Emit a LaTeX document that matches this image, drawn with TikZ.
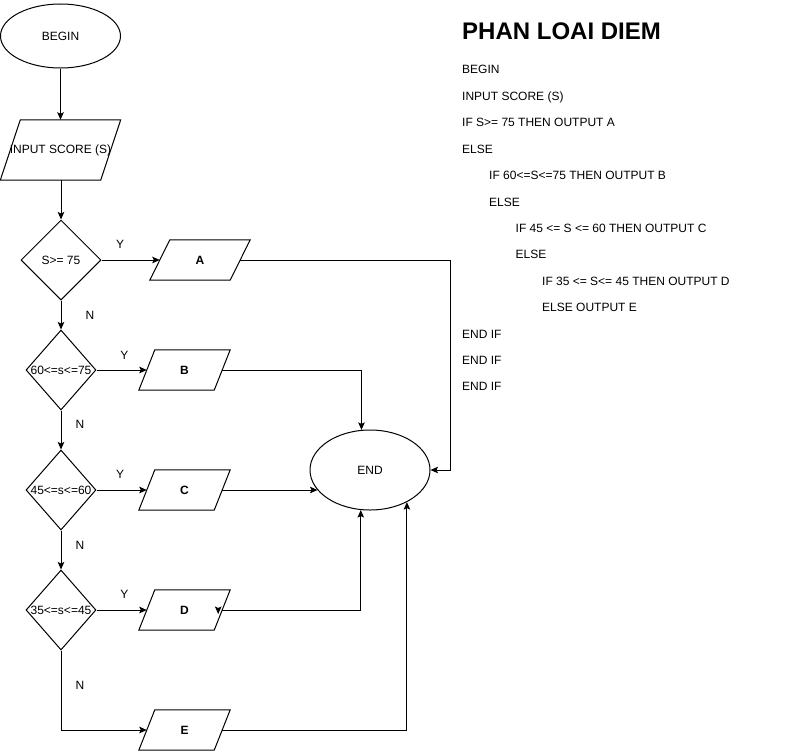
\documentclass[tikz,border=0pt]{standalone}
\usepackage{fontspec}
\setmainfont{Liberation Sans}
\usetikzlibrary{shapes.geometric,arrows.meta}
\newcommand\paral[2]{\draw[line] ([xshift=#2]#1.north west) -- ([xshift=#2]#1.north east) -- ([xshift=-#2]#1.south east) -- ([xshift=-#2]#1.south west) -- cycle;}
\begin{document}
\begin{tikzpicture}[x=1pt,y=-1pt,
 every node/.style={font=\fontsize{12}{14}\selectfont, inner sep=0pt},
 line/.style={line width=1pt},
 arr/.style={line width=1pt,-{Stealth[length=7.5pt,width=6.5pt,inset=1.5pt]}},
 term/.style={draw,line width=1pt,ellipse,minimum width=120pt},
 dec/.style={draw,line width=1pt,diamond,minimum height=80pt},
 iobox/.style={minimum height=40pt,font=\fontsize{12}{14}\selectfont\bfseries},
 code/.style={anchor=base west},
]
\useasboundingbox (0,0) rectangle (791,752);

% terminals
\node[term,minimum height=64pt] (begin) at (60.5,36) {BEGIN};
\node[term,minimum height=80pt] (end) at (370,470) {END};

% input
\node[minimum height=60pt,minimum width=100pt,label=center:{INPUT SCORE (S)}] (in) at (60.5,150) {};
\paral{in}{10pt}

% decisions
\node[dec,minimum width=80pt,label=center:{S>= 75}] (d1) at (61,260) {};
\node[dec,minimum width=70pt,label=center:{60<=s<=75}] (d2) at (61,370) {};
\node[dec,minimum width=70pt,label=center:{45<=s<=60}] (d3) at (61,490) {};
\node[dec,minimum width=70pt,label=center:{35<=s<=45}] (d4) at (61,610) {};

% outputs
\node[iobox,minimum width=80pt] (A) at (200,260) {A};
\paral{A}{10pt}
\node[iobox,minimum width=75pt] (B) at (184.5,370) {B};
\paral{B}{8pt}
\node[iobox,minimum width=75pt] (C) at (184.5,490) {C};
\paral{C}{8pt}
\node[iobox,minimum width=75pt] (D) at (184.5,610) {D};
\paral{D}{8pt}
\node[iobox,minimum width=75pt] (E) at (184.5,730) {E};
\paral{E}{8pt}

% main flow
\draw[arr] (begin.south) -- (in.north -| begin.south);
\draw[arr] (in.south -| d1.north) -- (d1.north);
\draw[arr] (d1.south) -- (d2.north);
\draw[arr] (d2.south) -- (d3.north);
\draw[arr] (d3.south) -- (d4.north);
\draw[arr] (d4.south) |- (E.west);

% yes branches
\draw[arr] (d1.east) -- (A.west);
\draw[arr] (d2.east) -- (B.west);
\draw[arr] (d3.east) -- (C.west);
\draw[arr] (d4.east) -- (D.west);

% to END
\draw[arr] (A.east) -| ([xshift=20pt]end.east) -- (end.east);
\draw[arr] (B.east) -| (end.102.8);
\draw[arr] (C.east) -- (C.east -| end.201);
\draw[arr] (D.east) -| (end.257.2);
\draw[arr] ([xshift=-4pt]D.east) -- ++(0,4);
\draw[arr] (E.east) -| (end.-41.6);

% labels
\node (y1) at (120,244) {Y};
\node (y2) at (124.5,355) {Y};
\node (y3) at (120,474) {Y};
\node (y4) at (124.5,594) {Y};
\node (n1) at (90,315) {N};
\node (n2) at (80,424) {N};
\node (n3) at (80,545) {N};
\node (n4) at (80,685) {N};

% pseudo code
\node[code,font=\fontsize{24}{28}\selectfont\bfseries] (title) at (462,39.5) {PHAN LOAI DIEM};
\node[code] (c1) at (462,74) {BEGIN};
\node[code] (c2) at (462,100.4) {INPUT SCORE (S)};
\node[code] (c3) at (462,126.8) {IF S>= 75 THEN OUTPUT A};
\node[code] (c4) at (462,153.2) {ELSE};
\node[code] (c5) at (489,179.6) {IF 60<=S<=75 THEN OUTPUT B};
\node[code] (c6) at (489,206) {ELSE};
\node[code] (c7) at (515.5,232.4) {IF 45 <= S <= 60 THEN OUTPUT C};
\node[code] (c8) at (515.5,258.8) {ELSE};
\node[code] (c9) at (542,285.2) {IF 35 <= S<= 45 THEN OUTPUT D};
\node[code] (c10) at (542,311.6) {ELSE OUTPUT E};
\node[code] (c11) at (462,338) {END IF};
\node[code] (c12) at (462,364.4) {END IF};
\node[code] (c13) at (462,390.8) {END IF};
\end{tikzpicture}
\end{document}
